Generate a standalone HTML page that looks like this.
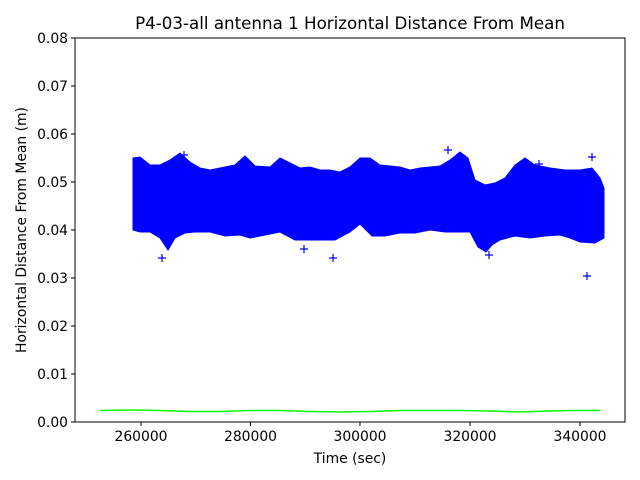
<!DOCTYPE html>
<html><head><style>body{margin:0;background:#fff}svg{display:block}text{font-family:"DejaVu Sans","Liberation Sans",sans-serif;fill:#000}</style></head><body>
<svg width="640" height="480" viewBox="0 0 640 480" xmlns="http://www.w3.org/2000/svg">
<rect width="640" height="480" fill="#fff"/>
<polygon fill="#0000ff" stroke="#0000ff" stroke-width="1" points="133,158 140,157 150,165 160,165 170,160 180,153 190,162 200,168 210,170 220,168 235,165 245,156 255,166 270,167 280,158 290,163 300,168 310,167 320,170 330,170 340,172 350,167 360,158 370,158 380,165 400,167 410,170 420,168 430,167 440,166 450,160 460,152 468,158 475,180 485,185 495,183 505,178 515,165 525,158 535,165 550,168 565,170 580,170 592,168 600,178 604,188 604,238 595,243 580,242 570,238 560,235 545,236 530,238 515,236 500,240 492,245 486,252 478,247 470,232 460,232 445,232 430,230 415,233 400,233 385,236 372,236 360,224 350,232 335,240 320,240 305,240 295,240 280,232 265,235 250,238 240,235 225,236 210,232 195,232 185,233 175,238 168,250 160,238 150,232 140,232 133,230"/>
<g stroke="#0000ff" stroke-width="1.2">
<path d="M158,258h8M162,254v8 M329,258h8M333,254v8 M485,255h8M489,251v8 M444,150h8M448,146v8 M588,157h8M592,153v8 M583,276h8M587,272v8 M300,249h8M304,245v8 M535,164h8M539,160v8 M180,155h8M184,151v8"/>
</g>
<path fill="none" stroke="#00ff00" stroke-width="1.5" d="M100,410.5 L130,410 L160,410.5 L190,411.5 L220,411.5 L250,410.5 L280,410.5 L310,411.5 L340,412 L370,411.5 L400,410.5 L430,410.5 L460,410.5 L490,411 L520,412 L550,411 L570,410.5 L600,410.5"/>
<rect x="75" y="38" width="550" height="384" fill="none" stroke="#000" stroke-width="1"/>
<g stroke="#000" stroke-width="1">
<path d="M141,422v4M250.5,422v4M360,422v4M470,422v4M580,422v4"/>
<path d="M75,422h-4M75,374h-4M75,326h-4M75,278h-4M75,230h-4M75,182h-4M75,134h-4M75,86h-4M75,38h-4"/>
</g>
<g font-size="13.9" text-anchor="middle">
<text x="141" y="441">260000</text><text x="250.5" y="441">280000</text><text x="360" y="441">300000</text><text x="470" y="441">320000</text><text x="580" y="441">340000</text>
</g>
<g font-size="13.9" text-anchor="end">
<text x="68" y="427">0.00</text><text x="68" y="379">0.01</text><text x="68" y="331">0.02</text><text x="68" y="283">0.03</text><text x="68" y="235">0.04</text><text x="68" y="187">0.05</text><text x="68" y="139">0.06</text><text x="68" y="91">0.07</text><text x="68" y="43">0.08</text>
</g>
<text x="350" y="463" font-size="13.9" text-anchor="middle">Time (sec)</text>
<text transform="translate(26,230) rotate(-90)" font-size="13.9" text-anchor="middle">Horizontal Distance From Mean (m)</text>
<text x="350" y="29" font-size="16.7" text-anchor="middle">P4-03-all antenna 1 Horizontal Distance From Mean</text>
</svg>
</body></html>
